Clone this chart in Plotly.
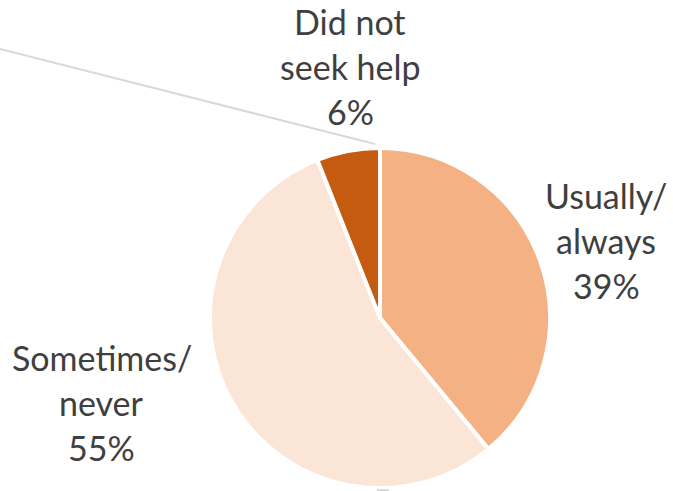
import plotly.graph_objects as go

# Help-seeking responses
categories = ["Usually/ always", "Sometimes/ never", "Did not seek help"]
label_lines = [["Usually/", "always"], ["Sometimes/", "never"], ["Did not", "seek help"]]
shares = [39, 55, 6]
colors = ["#F4B183", "#FBE5D6", "#C55A11"]

W, H = 673, 491
cx, cy, r = 380, 318, 170  # pie centre and radius in pixels

fig = go.Figure(
    go.Pie(
        values=shares,
        labels=categories,
        sort=False,
        direction="clockwise",
        rotation=0,
        marker=dict(colors=colors, line=dict(color="white", width=4)),
        textinfo="none",
        hoverinfo="label+percent",
        showlegend=False,
        domain=dict(
            x=[(cx - r) / W, (cx + r) / W],
            y=[(H - cy - r) / H, (H - cy + r) / H],
        ),
    )
)

# Data labels: one text line per annotation so the line pitch can be set
label_anchor = [(606, 195), (102, 357), (350, 21)]  # centre x, first-line centre y
line_pitch = 45
annotations = []
for lines, val, (lx, ly) in zip(label_lines, shares, label_anchor):
    for i, t in enumerate(lines + [f"{val}%"]):
        annotations.append(
            dict(
                text=t,
                x=lx / W,
                y=1 - (ly + i * line_pitch) / H,
                xref="paper",
                yref="paper",
                xanchor="center",
                yanchor="middle",
                showarrow=False,
                font=dict(family="Lato", size=34, color="#3F3F3F"),
            )
        )

# Leader lines running off the edges of the canvas
leader = dict(type="line", xref="paper", yref="paper", line=dict(color="#D9D9D9", width=2))
shapes = [
    dict(leader, x0=0, y0=1 - 49 / H, x1=375 / W, y1=1 - 144 / H),
    dict(leader, x0=377 / W, y0=1 - 490 / H, x1=389 / W, y1=1 - 490 / H),
]

fig.update_layout(
    width=W,
    height=H,
    margin=dict(l=0, r=0, t=0, b=0),
    paper_bgcolor="white",
    plot_bgcolor="white",
    annotations=annotations,
    shapes=shapes,
)

fig.write_html("out.html")
